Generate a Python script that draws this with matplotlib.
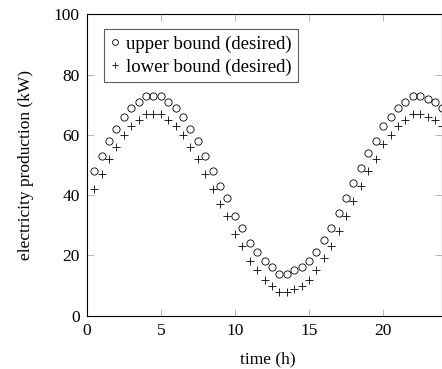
import matplotlib
matplotlib.use("Agg")
import matplotlib.pyplot as plt

plt.rcParams['font.family'] = ['Liberation Serif', 'DejaVu Serif']

hours = [0.5, 1.0, 1.5, 2.0, 2.5, 3.0, 3.5, 4.0, 4.5, 5.0, 5.5, 6.0,
         6.5, 7.0, 7.5, 8.0, 8.5, 9.0, 9.5, 10.0, 10.5, 11.0, 11.5, 12.0,
         12.5, 13.0, 13.5, 14.0, 14.5, 15.0, 15.5, 16.0, 16.5, 17.0, 17.5, 18.0,
         18.5, 19.0, 19.5, 20.0, 20.5, 21.0, 21.5, 22.0, 22.5, 23.0, 23.5, 24.0]
upper = [48, 53, 58, 62, 66, 69, 71, 73, 73, 73, 71, 69,
         66, 62, 58, 53, 48, 43, 39, 33, 29, 24, 21, 18,
         16, 14, 14, 15, 16, 18, 21, 25, 29, 34, 39, 44,
         49, 54, 58, 63, 66, 69, 71, 73, 73, 72, 71, 69]
lower = [42, 47, 52, 56, 60, 63, 65, 67, 67, 67, 65, 63,
         60, 56, 52, 47, 42, 37, 33, 27, 23, 18, 15, 12,
         10, 8, 8, 9, 10, 12, 15, 19, 23, 28, 33, 38,
         43, 48, 52, 57, 60, 63, 65, 67, 67, 66, 65, 63]
xticks = [0, 5, 10, 15, 20]
yticks = [0, 20, 40, 60, 80, 100]

W, H = 442, 369
FS = 12.5
fig = plt.figure(figsize=(W / 100, H / 100), dpi=100)
ax_w = 442.4 - 86.7
ax_h = 315.7 - 14.3
ax = fig.add_axes([86.7 / W, 1 - 315.7 / H, ax_w / W, ax_h / H])

ax.plot(hours, upper, linestyle='none', marker='o', markersize=5.2,
        markerfacecolor='none', markeredgecolor='black', markeredgewidth=0.6,
        label='upper bound (desired)', clip_on=False)
ax.plot(hours, lower, linestyle='none', marker='+', markersize=6,
        color='black', markeredgewidth=0.6,
        label='lower bound (desired)', clip_on=False)

ax.set_xlim(0, 24)
ax.set_ylim(0, 100)
ax.set_xticks(xticks)
ax.set_yticks(yticks)
ax.tick_params(direction='in', top=True, right=True, length=5, width=0.5,
               color='#999999', labelsize=FS, pad=5)
for s in ax.spines.values():
    s.set_linewidth(0.8)
ax.set_xlabel('time (h)', fontsize=FS)
ax.set_ylabel('electricity production (kW)', fontsize=FS)
ax.xaxis.set_label_coords(0.5 + 3.5 / ax_w, -(351 - 315.7) / ax_h)
ax.yaxis.set_label_coords(-(86.7 - 34) / ax_w, 0.5 + (315.7 - 14.3 - 2 * (315.7 - 165)) / (2 * ax_h))

leg = ax.legend(loc='upper left', bbox_to_anchor=((104 - 86.7) / ax_w, (315.7 - 29) / ax_h),
                fontsize=13.5, frameon=True, fancybox=False, handlelength=0.5,
                handletextpad=0.3, borderpad=0.35, labelspacing=0.3,
                borderaxespad=0, markerscale=0.8)
leg.get_frame().set_edgecolor('#333333')
leg.get_frame().set_linewidth(0.8)

fig.savefig('out.png', dpi=100)
